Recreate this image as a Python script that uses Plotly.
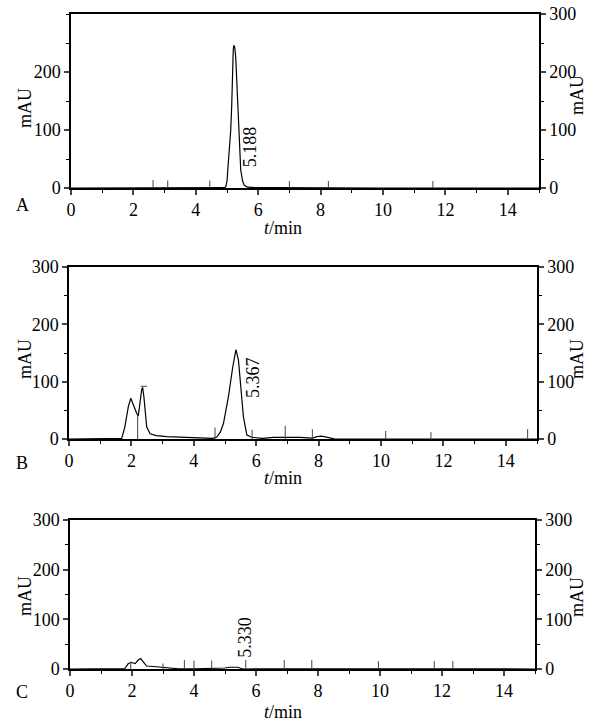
import plotly.graph_objects as go

W, H = 589, 722
FONT = "Liberation Serif"
FS = 18

# ---------------- data ----------------
# Panel A
a_t = [0, 1, 2, 3, 4, 4.8, 4.9, 4.96, 5.0, 5.04, 5.08, 5.12, 5.15, 5.17, 5.2, 5.22, 5.25, 5.28, 5.3, 5.33, 5.38, 5.44,
       5.5, 5.55, 5.65, 5.8, 6.0, 6.5, 7, 8, 10, 12, 15]
a_y = [0, 0, 0, 0, 0, 0, 0.5, 2, 12, 42, 70, 100, 140, 186, 238, 246, 242, 225, 200, 157, 83, 31,
       12, 5, 1.5, 0.8, 0.5, 0.5, 0.3, 0.2, 0, 0, 0]
a_mark_t = [2.63, 3.1, 4.45, 7.0, 8.25, 11.6]
a_mark_h = [14, 13, 13, 12, 12, 12]

# Panel B
b_t = [0, 1, 1.6, 1.69, 1.79, 1.9, 1.98, 2.06, 2.17, 2.22, 2.27, 2.33, 2.36, 2.4, 2.46, 2.49, 2.6, 2.8, 3.13, 3.77,
       4.2, 4.6, 4.73, 4.85, 4.95, 5.11, 5.25, 5.35, 5.43, 5.5, 5.59, 5.7, 5.86, 6.2, 6.55, 7.0, 7.4, 7.8, 7.95, 8.1,
       8.3, 8.5, 10, 12, 15]
b_y = [0, 0, 0, 1, 21, 56, 71, 59, 45, 40, 62, 86, 90, 74, 39, 21, 9, 6, 4, 3,
       2, 1, 3, 12, 27, 74, 126, 156, 138, 91, 39, 7, 3, 1, 3, 3, 3, 1.5, 4, 5,
       2, 0.3, 0, 0, 0]
b_mark_t = [2.2, 4.68, 5.87, 6.93, 7.8, 10.15, 11.6, 14.7]
b_mark_h = [40, 20, 16, 23, 17, 14, 12, 17]
b_cap_t = [2.3, 2.5]   # small horizontal cap mark at the second peak
b_cap_y = [92, 92]

# Panel C
c_t = [0, 1, 1.7, 1.77, 1.88, 1.99, 2.1, 2.2, 2.28, 2.36, 2.47, 2.69, 2.96, 3.2, 3.5, 4.0, 4.9, 5.0, 5.15, 5.3, 5.42,
       5.5, 5.6, 7, 8, 10, 11, 12, 15]
c_y = [0, 0, 0, 1, 11, 13, 11, 18, 21, 15, 6, 5, 3, 1.5, 0.5, 0.5, 0.5, 2, 3.5, 4, 3.5,
       1.5, 0, 0.5, 0.3, 0, 0.5, 0, 0]
c_mark_t = [1.96, 3.0, 3.69, 4.0, 4.57, 5.67, 6.91, 7.8, 9.95, 11.75, 12.35]
c_mark_h = [15, 11, 18, 17, 17, 18, 18, 18, 16, 16, 16]

panels = ["A", "B", "C"]
peak_labels = ["5.188", "5.367", "5.330"]
peak_label_pos = [(5.72, 71), (5.88, 107), (5.66, 64)]
y_ticks_left = [[0, 100, 200], [0, 100, 200, 300], [0, 100, 200, 300]]
y_ticks_right = [0, 100, 200, 300]
x_ticks = [0, 2, 4, 6, 8, 10, 12, 14]

# ---------------- layout geometry (pixels) ----------------
boxes = [  # left, right, top, bottom
    (71, 539, 14, 188),
    (69, 537, 267, 439),
    (70, 535, 520, 669),
]
letter_y = [205, 463, 692]
xtitle_y = [228, 478, 712]
ltitle_y = [108, 359, 596]
rtitle_y = [95, 359, 597]


def px(x):
    return x / W


def py(y):
    return 1 - y / H


fig = go.Figure()
datasets = [(a_t, a_y, a_mark_t, a_mark_h), (b_t, b_y, b_mark_t, b_mark_h), (c_t, c_y, c_mark_t, c_mark_h)]

annotations = []
layout = {}
font = dict(family=FONT, size=FS, color="black")
for i, (t, y, mt, mh) in enumerate(datasets):
    n = i + 1
    xa = "x" if n == 1 else f"x{n}"
    ya = "y" if n == 1 else f"y{n}"
    yr = f"y{n + 3}"
    # marker segments
    sx, sy = [], []
    for tt, hh in zip(mt, mh):
        sx += [tt, tt, None]
        sy += [0, hh, None]
    if n == 2:
        sx += b_cap_t + [None]
        sy += b_cap_y + [None]
    fig.add_trace(go.Scatter(x=sx, y=sy, mode="lines", line=dict(color="#444444", width=1),
                             xaxis=xa, yaxis=yr, showlegend=False, hoverinfo="skip"))
    fig.add_trace(go.Scatter(x=t, y=y, mode="lines", line=dict(color="black", width=1.2),
                             xaxis=xa, yaxis=ya, showlegend=False))

    l, r, tp, bt = boxes[i]
    xkey = "xaxis" if n == 1 else f"xaxis{n}"
    ykey = "yaxis" if n == 1 else f"yaxis{n}"
    rkey = f"yaxis{n + 3}"
    layout[xkey] = dict(domain=[px(l), px(r)], range=[0, 15], anchor=ya, showline=True, linecolor="black",
                        linewidth=1.5, mirror=True, ticks="outside", ticklen=5, tickwidth=1.5,
                        tickvals=x_ticks, tickfont=font, showgrid=False, zeroline=False,
                        minor=dict(ticks="outside", dtick=1, ticklen=3, tickwidth=1.2, tick0=0, tickcolor="black"))
    layout[ykey] = dict(domain=[py(bt), py(tp)], range=[0, 300], anchor=xa, showline=True, linecolor="black",
                        linewidth=1.5, ticks="outside", ticklen=5, tickwidth=1.5, tickvals=y_ticks_left[i],
                        tickfont=font, showgrid=False, zeroline=False,
                        minor=dict(ticks="outside", dtick=50, ticklen=3, tickwidth=1.2, tick0=0, tickcolor="black"))
    layout[rkey] = dict(range=[0, 300], anchor=xa, overlaying=ya, side="right", showline=True, linecolor="black",
                        linewidth=1.5, ticks="outside", ticklen=5, tickwidth=1.5, tickvals=y_ticks_right,
                        tickfont=font, showgrid=False, zeroline=False,
                        minor=dict(ticks="outside", dtick=50, ticklen=3, tickwidth=1.2, tick0=0, tickcolor="black"))

    lab_x, lab_y = peak_label_pos[i]
    common = dict(showarrow=False, font=font, xanchor="center", yanchor="middle")
    annotations.append(dict(x=lab_x, y=lab_y, xref=xa, yref=ya, text=peak_labels[i], textangle=-90, **common))
    annotations.append(dict(x=px(22), y=py(letter_y[i]), xref="paper", yref="paper", text=panels[i], **common))
    annotations.append(dict(x=px(283), y=py(xtitle_y[i]), xref="paper", yref="paper", text="<i>t</i>/min", **common))
    annotations.append(dict(x=px(25), y=py(ltitle_y[i]), xref="paper", yref="paper", text="mAU", textangle=-90,
                            **common))
    annotations.append(dict(x=px(577), y=py(rtitle_y[i]), xref="paper", yref="paper", text="mAU", textangle=-90,
                            **common))

fig.update_layout(width=W, height=H, margin=dict(l=0, r=0, t=0, b=0, pad=0, autoexpand=False),
                  paper_bgcolor="white", plot_bgcolor="white", annotations=annotations, **layout)
fig.write_html("out.html", config={"displayModeBar": False},
               post_script="document.body.style.margin='0px';document.body.style.overflow='hidden';")
